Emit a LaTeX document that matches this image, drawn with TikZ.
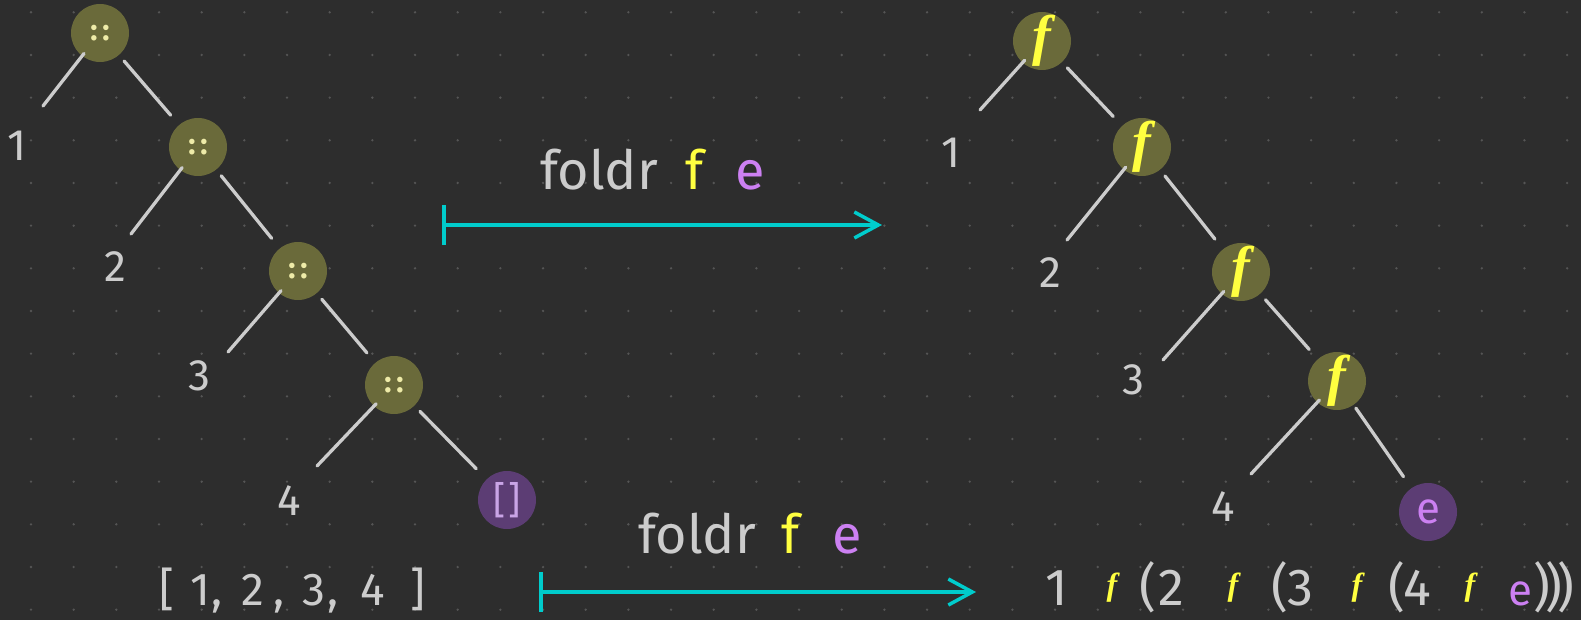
\documentclass[tikz,border=0pt]{standalone}
\usepackage{fontspec}
\setmainfont{Fira Sans}
\newfontfamily\fserif{Liberation Serif}
\usetikzlibrary{arrows.meta}
\definecolor{bg}{HTML}{2D2D2D}
\definecolor{dotc}{HTML}{555555}
\definecolor{olive}{HTML}{6A6A3A}
\definecolor{paley}{HTML}{EEEBA8}
\definecolor{fy}{HTML}{FFFF40}
\definecolor{purp}{HTML}{5C3D74}
\definecolor{lpurp}{HTML}{C9A4E6}
\definecolor{epurp}{HTML}{CC80F2}
\definecolor{grayt}{HTML}{CCCCCC}
\definecolor{cy}{HTML}{00CCCC}
\newcommand{\fsz}[1]{\fontsize{#1}{#1}\selectfont}
\begin{document}
\begin{tikzpicture}[x=1pt,y=-1pt,
  consnode/.style={circle,fill=olive,minimum size=58pt,inner sep=0pt,outer sep=0pt,text=paley,font=\fsz{30}\bfseries},
  fnode/.style={circle,fill=olive,minimum size=58pt,inner sep=0pt,outer sep=0pt,text=fy,font=\fsz{56}\fserif\bfseries\itshape},
  leafnode/.style={circle,fill=purp,minimum size=58pt,inner sep=0pt,outer sep=0pt},
  lbl/.style={text=grayt,font=\fsz{44},inner sep=0pt},
  big/.style={text=grayt,font=\fsz{54},inner sep=0pt,anchor=base},
  expr/.style={text=grayt,font=\fsz{52},inner sep=0pt,anchor=base},
  lst/.style={text=grayt,font=\fsz{46},inner sep=0pt,anchor=base},
  smallf/.style={text=fy,font=\fsz{32}\fserif\bfseries\itshape,inner sep=0pt},
  treeedge/.style={draw=grayt,line width=3.3pt,line cap=round},
  maparrow/.style={draw=cy,line width=3.5pt,line cap=round,{Bar[width=40pt,line width=3.5pt]}-{Straight Barb[length=24pt,width=26pt,line width=3.5pt]}}
]
\fill[bg] (0,0) rectangle (1581,620);
\useasboundingbox (0,0) rectangle (1581,620);
\foreach \i in {0,...,36}{
  \foreach \j in {0,...,14}{
    \fill[dotc] ({31+42.67*\i},{12.3+42.67*\j}) circle (1.3pt);
  }
}
% ---------- left tree ----------
\node[consnode] (n1) at (100,33) {:\,:};
\node[consnode] (n2) at (198,147) {:\,:};
\node[consnode] (n3) at (298,271) {:\,:};
\node[consnode] (n4) at (394,385) {:\,:};
\node[leafnode,text=lpurp,font=\fsz{38}] (nl) at (507,500) {[\kern3pt]};
\coordinate (a1) at (43,106);
\coordinate (a2) at (131,234);
\coordinate (a3) at (228,352);
\coordinate (a4) at (317,466);
\node[lbl] (l1) at (17,146) {1};
\node[lbl] (l2) at (115,267) {2};
\node[lbl] (l3) at (199,376) {3};
\node[lbl] (l4) at (289,501) {4};
\foreach \p/\q in {n1/a1,n2/a2,n3/a3,n4/a4}{
  \draw[treeedge,shorten <=-3pt] (\p) -- (\q);
}
\draw[treeedge,shorten <=8pt,shorten >=13pt] (n1) -- (n2);
\draw[treeedge,shorten <=8pt,shorten >=13pt] (n2) -- (n3);
\draw[treeedge,shorten <=8pt,shorten >=13pt] (n3) -- (n4);
\draw[treeedge,shorten <=8pt,shorten >=15pt] (n4) -- (nl);
% ---------- right tree ----------
\node[fnode] (m1) at (1042,41) {f};
\node[fnode] (m2) at (1142,147) {f};
\node[fnode] (m3) at (1241,272) {f};
\node[fnode] (m4) at (1337,381) {f};
\node[leafnode,text=epurp,font=\fsz{44}] (me) at (1428,512) {e};
\coordinate (b1) at (980,110);
\coordinate (b2) at (1067,240);
\coordinate (b3) at (1163,360);
\coordinate (b4) at (1251,474);
\node[lbl] (k1) at (951,153) {1};
\node[lbl] (k2) at (1050,273) {2};
\node[lbl] (k3) at (1133,380) {3};
\node[lbl] (k4) at (1223,507) {4};
\foreach \p/\q in {m1/b1,m2/b2,m3/b3,m4/b4}{
  \draw[treeedge,shorten <=-3pt] (\p) -- (\q);
}
\draw[treeedge,shorten <=8pt,shorten >=13pt] (m1) -- (m2);
\draw[treeedge,shorten <=8pt,shorten >=13pt] (m2) -- (m3);
\draw[treeedge,shorten <=8pt,shorten >=13pt] (m3) -- (m4);
\draw[treeedge,shorten <=4pt,shorten >=14pt] (m4) -- (me);
% ---------- top arrow ----------
\node[big] (fa) at (599,190) {foldr};
\node[big,text=fy] (fb) at (695,190) {f};
\node[big,text=epurp] (fc) at (750,190) {e};
\coordinate (ta) at (442,225);
\coordinate (tb) at (882,225);
\draw[maparrow] (ta) -- (tb);
% ---------- bottom arrow ----------
\node[big] (ga) at (697,553) {foldr};
\node[big,text=fy] (gb) at (791,553) {f};
\node[big,text=epurp] (gc) at (847,553) {e};
\coordinate (ua) at (539,592);
\coordinate (ub) at (976,592);
\draw[maparrow] (ua) -- (ub);
% ---------- list ----------
\node[lst] (s0) at (167,605) {[};
\node[lst] (s1) at (200,605) {1};
\node[lst] (c1) at (217,605) {,};
\node[lst] (s2) at (253,605) {2};
\node[lst] (c2) at (279,605) {,};
\node[lst] (s3) at (314,605) {3};
\node[lst] (c3) at (333,605) {,};
\node[lst] (s4) at (373,605) {4};
\node[lst] (s5) at (418,605) {]};
% ---------- expression ----------
\node[expr] (x1) at (1057,605) {1};
\node[smallf] (f1) at (1112,588) {f};
\node[expr] (o1) at (1148,605) {(};
\node[expr] (x2) at (1171,605) {2};
\node[smallf] (f2) at (1233,588) {f};
\node[expr] (o2) at (1280,605) {(};
\node[expr] (x3) at (1300,605) {3};
\node[smallf] (f3) at (1357,588) {f};
\node[expr] (o3) at (1397,605) {(};
\node[expr] (x4) at (1417,605) {4};
\node[smallf] (f4) at (1470,588) {f};
\node[expr,text=epurp,font=\fsz{44}] (xe) at (1520,605) {e};
\node[expr] (cl) at (1554,605) {)\kern-5pt)\kern-5pt)};
\end{tikzpicture}
\end{document}
